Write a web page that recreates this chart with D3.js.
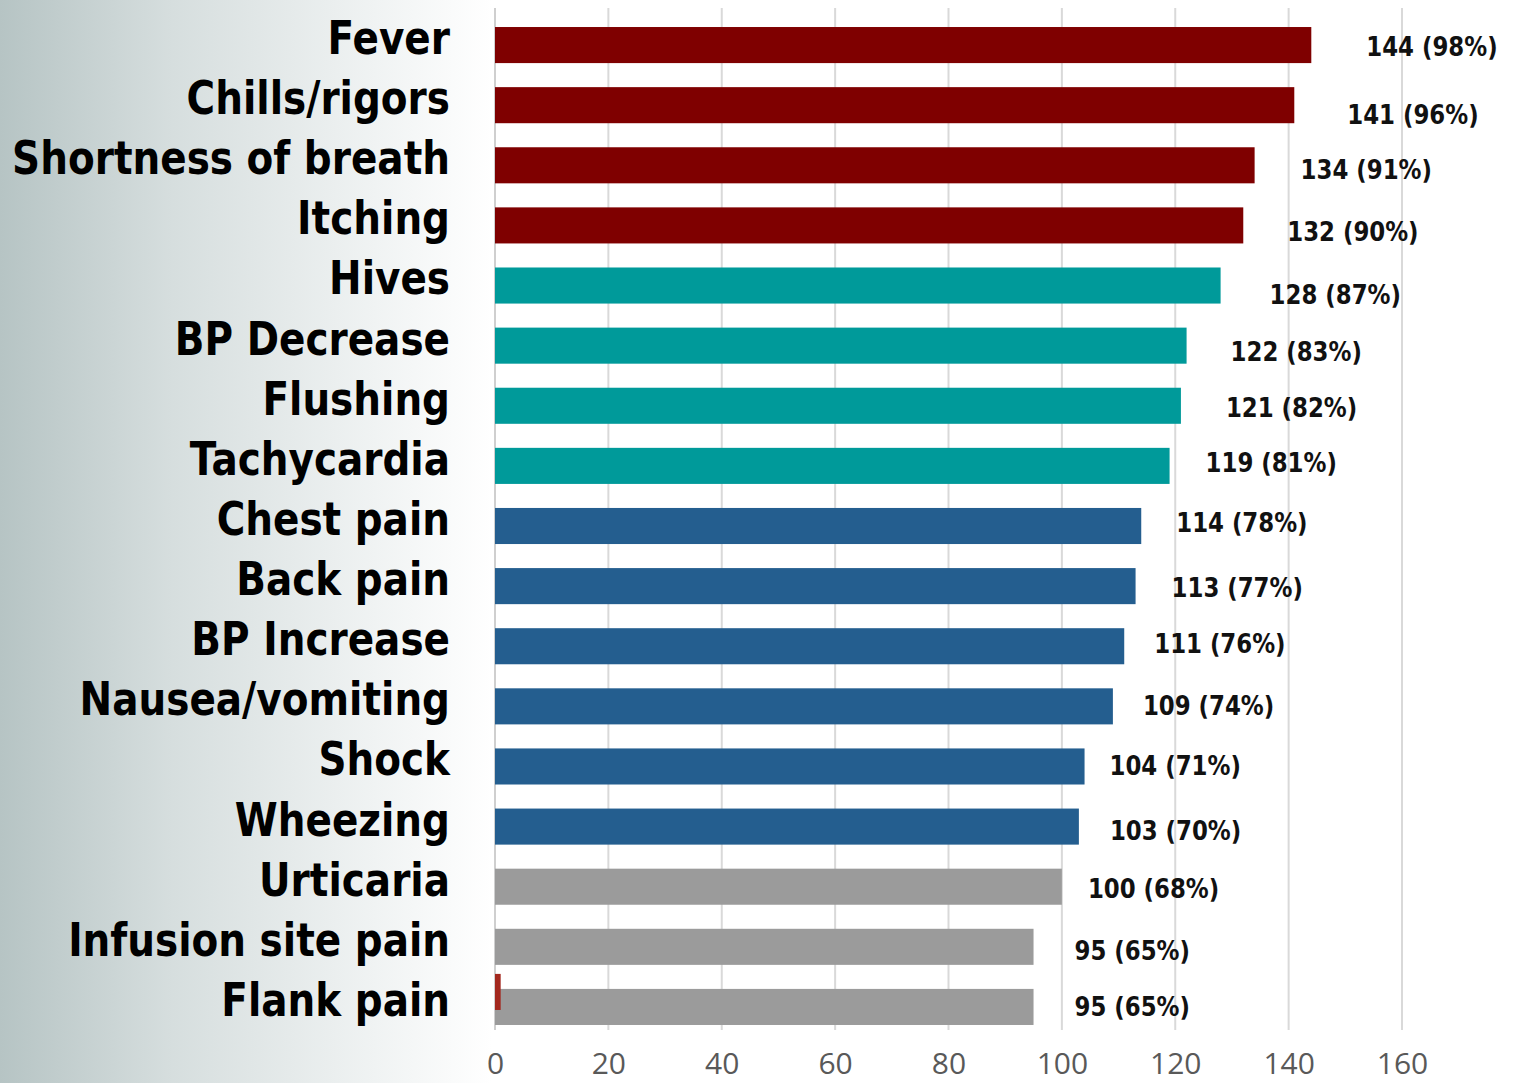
<!DOCTYPE html>
<html>
<head>
<meta charset="utf-8">
<script src="https://cdn.jsdelivr.net/npm/d3@7"></script>
<style>
  html, body { margin: 0; padding: 0; background: #fff; }
  svg { display: block; }
</style>
</head>
<body>
<div id="chart"></div>
<script>
// Symptoms, top to bottom
const categories = [
  'Fever', 'Chills/rigors', 'Shortness of breath', 'Itching', 'Hives',
  'BP Decrease', 'Flushing', 'Tachycardia', 'Chest pain', 'Back pain',
  'BP Increase', 'Nausea/vomiting', 'Shock', 'Wheezing', 'Urticaria',
  'Infusion site pain', 'Flank pain'
];
const counts   = [144, 141, 134, 132, 128, 122, 121, 119, 114, 113, 111, 109, 104, 103, 100, 95, 95];
const percents = [98, 96, 91, 90, 87, 83, 82, 81, 78, 77, 76, 74, 71, 70, 68, 65, 65];
// colour group of each bar
const groups   = ['a', 'a', 'a', 'a', 'b', 'b', 'b', 'b', 'c', 'c', 'c', 'c', 'c', 'c', 'd', 'd', 'd'];
// stray second-series sliver beside the last bar
const extraCategory = 'Flank pain';
const extraValue = 1;
const xTicks = [0, 20, 40, 60, 80, 100, 120, 140, 160];

// layout
const W = 1517, H = 1083;
const X0 = 495, X1 = 1402;
const LABEL_RIGHT = 450, LABEL_MAXW = 438;
const COLORS = { a: '#7f0000', b: '#009a9a', c: '#245e8f', d: '#9b9b9b' };
// hand placed value labels in the slide: [dx from bar end, dy from bar centre]
const LABEL_NUDGE = [
  [55, 2], [53, 9], [46, 4], [44, 6], [49, 9], [44, 6], [45, 2], [36, -3], [35, -3],
  [36, 2], [30, -3], [30, -1], [25, -1], [31, 4], [26, 2], [41, 4], [41, 0]
];

const svg = d3.select('#chart').append('svg')
  .attr('width', W).attr('height', H);

const defs = svg.append('defs');
const grad = defs.append('linearGradient').attr('id', 'bg')
  .attr('x1', 0).attr('x2', 1).attr('y1', 0).attr('y2', 0);
grad.append('stop').attr('offset', '0%').attr('stop-color', '#b6c4c4');
grad.append('stop').attr('offset', '35%').attr('stop-color', '#d6dede');
grad.append('stop').attr('offset', '100%').attr('stop-color', '#ffffff');

svg.append('rect').attr('width', W).attr('height', H).attr('fill', '#fff');
svg.append('rect').attr('width', 492).attr('height', H).attr('fill', 'url(#bg)');

const x = d3.scaleLinear().domain([0, 160]).range([X0, X1]);
const y = d3.scaleBand().domain(categories)
  .range([15, 1037]).paddingInner(0.4).paddingOuter(0.2);

// gridlines
svg.append('g').selectAll('line').data(xTicks).join('line')
  .attr('x1', d => x(d)).attr('x2', d => x(d))
  .attr('y1', 8).attr('y2', 1030)
  .attr('stroke', d => d === 0 ? '#cfcfcf' : '#d9d9d9')
  .attr('stroke-width', 2);

// tick labels via axis
const axis = svg.append('g')
  .attr('transform', 'translate(0,1053)')
  .call(d3.axisBottom(x).tickValues(xTicks).tickSize(0).tickPadding(0));
axis.select('.domain').remove();
axis.selectAll('text')
  .attr('dy', '0.71em')
  .attr('font-family', '"Open Sans", sans-serif')
  .attr('font-size', 30)
  .attr('fill', '#595959');

// bars
const rows = categories.map((c, i) => ({ c, v: counts[i], p: percents[i], g: groups[i], i }));

svg.append('g').selectAll('rect').data(rows).join('rect')
  .attr('x', x(0))
  .attr('y', d => y(d.c))
  .attr('width', d => x(d.v) - x(0))
  .attr('height', y.bandwidth())
  .attr('fill', d => COLORS[d.g]);

svg.append('rect')
  .attr('x', x(0))
  .attr('y', y(extraCategory) - 15)
  .attr('width', x(extraValue) - x(0))
  .attr('height', y.bandwidth())
  .attr('fill', '#a3281e');

// value labels (Tahoma-like: DejaVu Sans Bold squeezed a little)
svg.append('g').selectAll('g').data(rows).join('g')
  .attr('transform', d => `translate(${x(d.v) + LABEL_NUDGE[d.i][0]},${y(d.c) + y.bandwidth() / 2 + LABEL_NUDGE[d.i][1]}) scale(0.88,1)`)
  .append('text')
  .attr('dy', '0.36em')
  .attr('font-family', '"DejaVu Sans", sans-serif')
  .attr('font-weight', 'bold')
  .attr('font-size', 26)
  .attr('fill', '#111')
  .text(d => `${d.v} (${d.p}%)`);

// category labels
const catG = svg.append('g').attr('transform', `translate(${LABEL_RIGHT},0)`);
const catText = catG.selectAll('text').data(rows).join('text')
  .attr('x', 0)
  .attr('y', d => y(d.c) + y.bandwidth() / 2 - 8)
  .attr('dy', '0.36em')
  .attr('text-anchor', 'end')
  .attr('font-family', '"DejaVu Sans", sans-serif')
  .attr('font-weight', 'bold')
  .attr('font-size', 47)
  .attr('fill', '#000')
  .text(d => d.c);

// squeeze horizontally so the longest label fits the slide's label column
const widest = d3.max(catText.nodes(), n => n.getComputedTextLength());
const sx = Math.min(1, LABEL_MAXW / widest);
catG.attr('transform', `translate(${LABEL_RIGHT},0) scale(${sx},1)`);
</script>
</body>
</html>
